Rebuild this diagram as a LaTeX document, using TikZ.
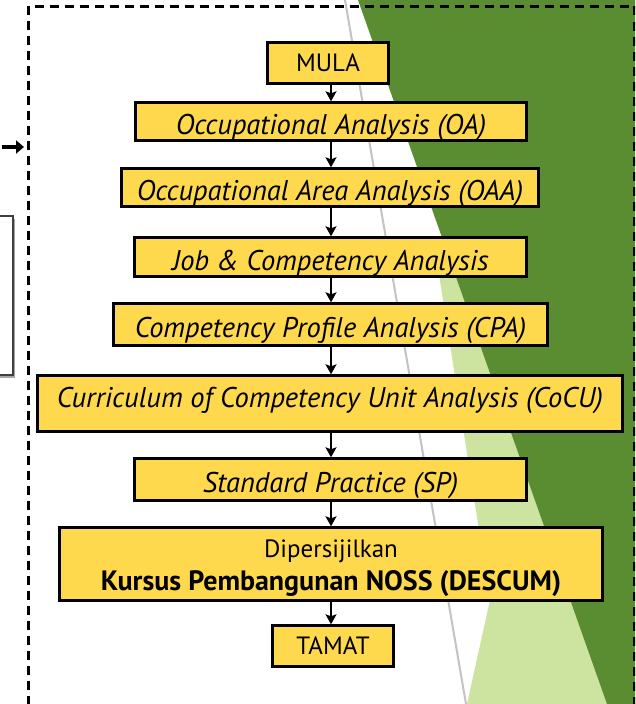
\documentclass[tikz,border=0pt]{standalone}
\usepackage{fontspec}
\setmainfont{PT Sans}
\usetikzlibrary{arrows.meta}
\definecolor{boxyellow}{RGB}{255,217,77}
\definecolor{darkgreen}{RGB}{90,140,50}
\definecolor{lightgreen}{RGB}{205,228,160}
\definecolor{guide}{RGB}{195,195,195}
\begin{document}
\begin{tikzpicture}[x=1pt,y=-1pt,
  flowbox/.style={draw=black, line width=2.4pt, fill=boxyellow, inner sep=0pt, align=center,
    font=\fontsize{25}{33}\selectfont},
  itbox/.style={flowbox, font=\fontsize{28.5}{33}\selectfont\itshape, text height=30pt, text depth=4pt},
  flowarrow/.style={draw=black, line width=1.4pt, -{Stealth[length=10pt,width=11pt,inset=2pt]}},
  frameline/.style={draw=black, line width=3pt, dash pattern=on 9pt off 6pt},
]
\useasboundingbox (0,0) rectangle (635,704);
\clip (0,0) rectangle (635,704);
\fill[white] (0,0) rectangle (635,704);
% background decoration
\draw[guide, line width=2pt] (345,0) -- (466,704);
\fill[lightgreen] (438,268) -- (490,600) -- (467,704) -- (640,704) -- (520,300) -- cycle;
\fill[darkgreen] (358,0) -- (640,0) -- (640,704) -- (607,704) -- cycle;
% frame
\draw[frameline] (28.5,720) -- (28.5,6) -- (634,6) -- (634,720);
% left partial box
\fill[gray!70] (-10,219) rectangle (15,378);
\draw[draw=black!75, line width=2pt, fill=white] (-10,216) rectangle (13,375);
% incoming arrow
\coordinate (inlet) at (2,147);
\coordinate (frameL) at (24,147);
\draw[line width=4pt, -{Triangle[length=8pt,width=13pt]}] (inlet) -- (frameL);
% flow boxes
\node[flowbox, minimum width=121pt, minimum height=41pt] (mula) at (328,63) {MULA};
\node[itbox, minimum width=391pt, minimum height=38pt] (oa) at (331,121.5) {Occupational Analysis (OA)};
\node[itbox, minimum width=417pt, minimum height=38pt] (oaa) at (330,187.5) {Occupational Area Analysis (OAA)};
\node[itbox, minimum width=392pt, minimum height=39pt] (jca) at (330.5,257) {Job \& Competency Analysis};
\node[itbox, minimum width=434pt, minimum height=42pt] (cpa) at (330.5,324.5) {Competency Profile Analysis (CPA)};
\node[itbox, minimum width=585pt, minimum height=56pt, text height=22pt, text depth=14pt] (cocu) at (330,403.5) {Curriculum of Competency Unit Analysis (CoCU)};
\node[itbox, minimum width=392pt, minimum height=42pt] (sp) at (330.5,479.5) {Standard Practice (SP)};
\node[flowbox, minimum width=543pt, minimum height=73pt] (dip) at (331,564) {\rule{0pt}{27pt}Dipersijilkan\\{\fontsize{28}{33}\selectfont\bfseries Kursus Pembangunan NOSS (DESCUM)}};
\node[flowbox, minimum width=121pt, minimum height=41pt] (tamat) at (333,646) {TAMAT};
% connectors
\coordinate (col) at (331,0);
\draw[flowarrow] (mula.south -| col) -- (oa.north -| col);
\draw[flowarrow] (oa.south -| col) -- (oaa.north -| col);
\draw[flowarrow] (oaa.south -| col) -- (jca.north -| col);
\draw[flowarrow] (jca.south -| col) -- (cpa.north -| col);
\draw[flowarrow] (cpa.south -| col) -- (cocu.north -| col);
\draw[flowarrow] (cocu.south -| col) -- (sp.north -| col);
\draw[flowarrow] (sp.south -| col) -- (dip.north -| col);
\draw[flowarrow] (dip.south -| col) -- (tamat.north -| col);
\end{tikzpicture}
\end{document}
